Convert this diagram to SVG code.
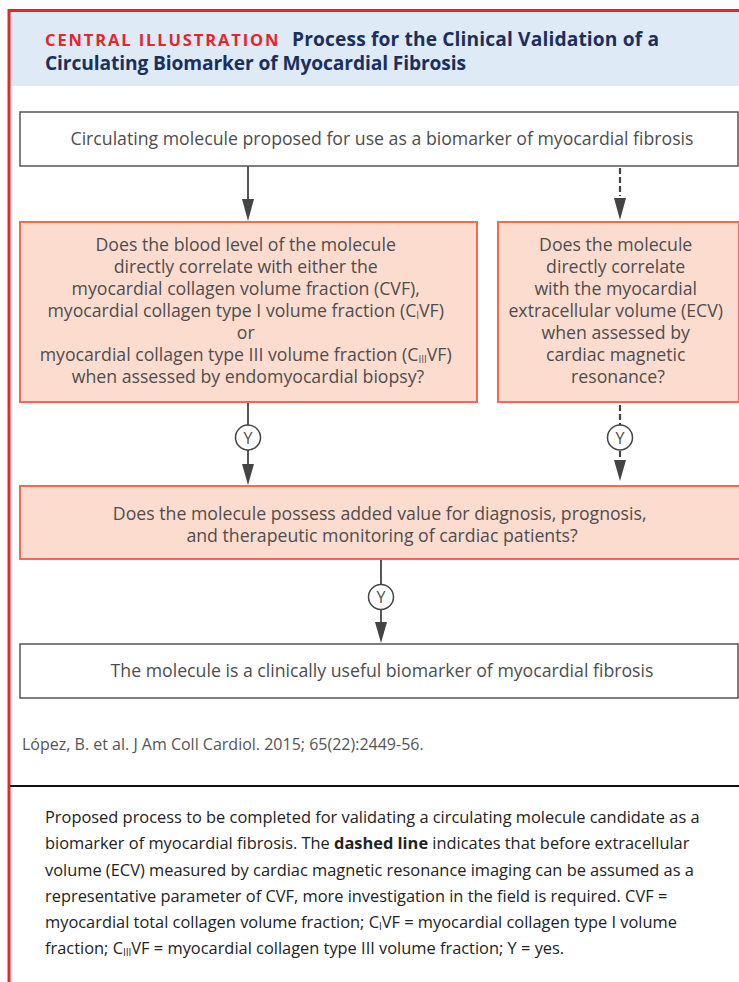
<svg xmlns="http://www.w3.org/2000/svg" width="739" height="982" viewBox="0 0 739 982">
<style>
.frame{fill:none;stroke:#e3262e;stroke-width:3}
.wbox{fill:#ffffff;stroke:#555555;stroke-width:1.5}
.pbox{fill:#fddcd0;stroke:#f26a55;stroke-width:2}
.t{font-family:"Open Sans","Noto Sans",sans-serif;font-size:17.7px;fill:#4d4d4d;text-anchor:middle}
.cap{font-family:"Open Sans","Noto Sans",sans-serif;font-size:16.4px;fill:#222222}
.hd{font-family:"Open Sans","Noto Sans",sans-serif;font-weight:bold;font-size:19.2px;fill:#1b2f5e}
.ln{stroke:#444444;stroke-width:1.8;fill:none}
.dash{stroke-dasharray:6 3;stroke-width:2.2}
.ah{fill:#444444}
.yc{fill:#ffffff;stroke:#444444;stroke-width:1.5}
.yt{font-family:"Open Sans","Noto Sans",sans-serif;font-size:16px;fill:#4d4d4d;text-anchor:middle}
.sub{font-size:10px}
</style>
<rect x="0" y="0" width="739" height="982" fill="#ffffff"/>
<g id="header">
<rect x="10" y="11" width="729" height="75" fill="#deeaf6"/>
<path class="frame" d="M9,982 V10.5 H739"/>
<text x="45" y="46" font-family="Open Sans, Noto Sans, sans-serif" font-weight="bold" font-size="16.5" letter-spacing="1.6" fill="#e3262e" textLength="235">CENTRAL ILLUSTRATION</text>
<text class="hd" x="292" y="46" textLength="367">Process for the Clinical Validation of a</text>
<text class="hd" x="45" y="70" textLength="421">Circulating Biomarker of Myocardial Fibrosis</text>
</g>
<g id="connectors">
<line class="ln" x1="248" y1="166" x2="248" y2="200"/>
<polygon class="ah" points="242,199 254,199 248,221"/>
<line class="ln dash" x1="620" y1="168" x2="620" y2="196"/>
<polygon class="ah" points="614,198 626,198 620,220"/>
<line class="ln" x1="248" y1="402" x2="248" y2="425"/>
<line class="ln" x1="248" y1="450" x2="248" y2="465"/>
<polygon class="ah" points="242,464 254,464 248,485"/>
<line class="ln dash" x1="620" y1="405" x2="620" y2="425"/>
<line class="ln dash" x1="620" y1="451" x2="620" y2="457"/>
<polygon class="ah" points="614,460 626,460 620,481"/>
<line class="ln" x1="381" y1="559" x2="381" y2="585"/>
<line class="ln" x1="381" y1="609" x2="381" y2="623"/>
<polygon class="ah" points="375,622 387,622 381,643"/>
<g id="y1"><circle class="yc" cx="248" cy="437.5" r="12.5"/><text class="yt" x="248" y="443.5">Y</text></g>
<g id="y2"><circle class="yc" cx="620" cy="437.5" r="12.5"/><text class="yt" x="620" y="443.5">Y</text></g>
<g id="y3"><circle class="yc" cx="381" cy="597" r="12.5"/><text class="yt" x="381" y="603">Y</text></g>
</g>
<g id="start">
<rect class="wbox" x="20" y="112" width="718" height="54"/>
<text class="t" x="382" y="145">Circulating molecule proposed for use as a biomarker of myocardial fibrosis</text>
</g>
<g id="q-biopsy">
<rect class="pbox" x="20" y="222" width="457" height="180"/>
<text class="t" x="248">
<tspan x="248" y="251">Does the blood level of the molecule</tspan>
<tspan x="248" y="273">directly correlate with either the</tspan>
<tspan x="248" y="295">myocardial collagen volume fraction (CVF),</tspan>
<tspan x="248" y="317">myocardial collagen type I volume fraction (C<tspan class="sub" dy="2">I</tspan><tspan dy="-2">VF)</tspan></tspan>
<tspan x="248" y="339">or</tspan>
<tspan x="248" y="361">myocardial collagen type III volume fraction (C<tspan class="sub" dy="2">III</tspan><tspan dy="-2">VF)</tspan></tspan>
<tspan x="248" y="383">when assessed by endomyocardial biopsy?</tspan>
</text>
</g>
<g id="q-cmr">
<rect class="pbox" x="498" y="222" width="241" height="180"/>
<text class="t">
<tspan x="618" y="251">Does the molecule</tspan>
<tspan x="618" y="273">directly correlate</tspan>
<tspan x="618" y="295">with the myocardial</tspan>
<tspan x="618" y="317">extracellular volume (ECV)</tspan>
<tspan x="618" y="339">when assessed by</tspan>
<tspan x="618" y="361">cardiac magnetic</tspan>
<tspan x="618" y="383">resonance?</tspan>
</text>
</g>
<g id="q-value">
<rect class="pbox" x="20" y="486" width="720" height="73"/>
<text class="t">
<tspan x="382" y="520">Does the molecule possess added value for diagnosis, prognosis,</tspan>
<tspan x="382" y="542">and therapeutic monitoring of cardiac patients?</tspan>
</text>
</g>
<g id="result">
<rect class="wbox" x="20" y="644" width="718" height="54"/>
<text class="t" x="382" y="677">The molecule is a clinically useful biomarker of myocardial fibrosis</text>
</g>
<g id="citation">
<text x="22" y="750" font-family="Open Sans, Noto Sans, sans-serif" font-size="16" fill="#555555">López, B. et al. J Am Coll Cardiol. 2015; 65(22):2449-56.</text>
<line x1="10" y1="786" x2="739" y2="786" stroke="#111111" stroke-width="2"/>
</g>
<g id="caption">
<text class="cap" x="45" y="823">Proposed process to be completed for validating a circulating molecule candidate as a</text>
<text class="cap" x="45" y="849">biomarker of myocardial fibrosis. The <tspan font-weight="bold">dashed line</tspan> indicates that before extracellular</text>
<text class="cap" x="45" y="876">volume (ECV) measured by cardiac magnetic resonance imaging can be assumed as a</text>
<text class="cap" x="45" y="902">representative parameter of CVF, more investigation in the field is required. CVF =</text>
<text class="cap" x="45" y="928">myocardial total collagen volume fraction; C<tspan class="sub" dy="2">I</tspan><tspan dy="-2">VF = myocardial collagen type I volume</tspan></text>
<text class="cap" x="45" y="954">fraction; C<tspan class="sub" dy="2">III</tspan><tspan dy="-2">VF = myocardial collagen type III volume fraction; Y = yes.</tspan></text>
</g>
</svg>
